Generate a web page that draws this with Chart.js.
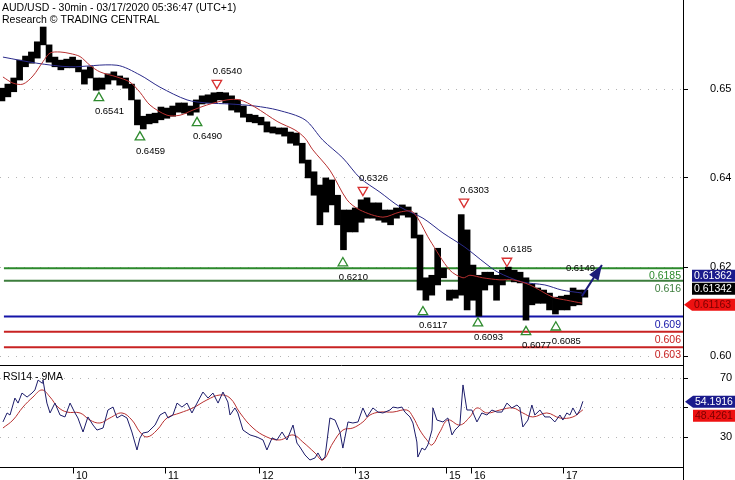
<!DOCTYPE html>
<html>
<head>
<meta charset="utf-8">
<title>AUD/USD 30min</title>
<script src="https://cdn.jsdelivr.net/npm/chart.js"></script>
<style>
  html, body { margin: 0; padding: 0; background: #fff; }
  #wrap { width: 735px; height: 480px; }
</style>
</head>
<body>
<div id="wrap"><canvas id="chart" width="735" height="480"></canvas></div>
<script>
const FONT = "'Liberation Sans', Arial, sans-serif";

// bar index = 30 minute bars since the first bar on screen
const candleBars = [1,4,7,10,13,16,19,22,25,28,31,34,37,40,43,46,49,52,55,58,
  61,64,67,70,73,76,79,82,85,88,91,94,97,100,103,106,109,112,115,118,
  121,124,127,130,133,136,139,142,145,148,151,154,157,160,163,166,169,172,175,178,
  181,184,187,190,193,196,199,202,205,208,211,214,217,220,223,226,229,232,235,238,
  241,244,247,250,253,256,259,262,265,268,271,274,277,280,283,286,289,292,295,298];
const candleHigh = [0.6538,0.6546,0.6558,0.6593,0.6601,0.6609,0.6629,0.6658,0.6623,0.6599,
  0.6593,0.6595,0.6599,0.6593,0.6574,0.6580,0.6558,0.6558,0.6566,0.6570,
  0.6562,0.6558,0.6546,0.6515,0.6483,0.6487,0.6489,0.6501,0.6499,0.6503,
  0.6509,0.6509,0.6503,0.6515,0.6523,0.6525,0.6529,0.6530,0.6529,0.6523,
  0.6515,0.6503,0.6487,0.6485,0.6481,0.6472,0.6462,0.6460,0.6460,0.6452,
  0.6450,0.6430,0.6397,0.6374,0.6348,0.6362,0.6358,0.6328,0.6299,0.6299,
  0.6303,0.6319,0.6323,0.6313,0.6313,0.6299,0.6299,0.6303,0.6309,0.6305,
  0.6293,0.6250,0.6166,0.6171,0.6224,0.6185,0.6142,0.6142,0.6290,0.6260,
  0.6191,0.6171,0.6177,0.6177,0.6171,0.6181,0.6187,0.6181,0.6177,0.6166,
  0.6154,0.6146,0.6142,0.6136,0.6128,0.6130,0.6132,0.6146,0.6142,0.6142];
const candleLow = [0.6513,0.6521,0.6531,0.6554,0.6580,0.6587,0.6597,0.6623,0.6589,0.6580,
  0.6574,0.6578,0.6578,0.6570,0.6546,0.6558,0.6534,0.6536,0.6546,0.6554,
  0.6544,0.6538,0.6515,0.6466,0.6458,0.6468,0.6470,0.6476,0.6479,0.6483,
  0.6491,0.6489,0.6485,0.6491,0.6507,0.6509,0.6509,0.6515,0.6509,0.6495,
  0.6491,0.6481,0.6472,0.6470,0.6466,0.6452,0.6450,0.6448,0.6444,0.6430,
  0.6426,0.6391,0.6362,0.6328,0.6270,0.6295,0.6309,0.6270,0.6221,0.6256,
  0.6256,0.6275,0.6283,0.6283,0.6279,0.6275,0.6270,0.6283,0.6289,0.6285,
  0.6244,0.6142,0.6122,0.6132,0.6152,0.6166,0.6122,0.6126,0.6132,0.6103,
  0.6122,0.6091,0.6142,0.6152,0.6122,0.6152,0.6162,0.6158,0.6156,0.6083,
  0.6113,0.6116,0.6116,0.6103,0.6095,0.6103,0.6103,0.6111,0.6113,0.6128];

// moving averages on price
const maFastBars = [1.5,6.6,11.7,16.8,21.9,25.5,30.6,35.7,40.8,45.8,50.9,59.6,66.2,71.3,76.4,85.1,91.7,98.3,
  105.4,115.6,122.3,129.9,141.6,150.3,155.4,159.4,168.1,176.8,183.4,195.1,203.8,210.4,219.0,229.2,
  235.9,239.4,246.0,254.7,261.3,270.0,281.7,288.8,296.5];
const maFastValues = [0.6560,0.6548,0.6546,0.6562,0.6590,0.6607,0.6609,0.6606,0.6600,0.6583,0.6570,0.6560,
  0.6550,0.6530,0.6505,0.6485,0.6485,0.6495,0.6505,0.6515,0.6515,0.6501,0.6472,0.6456,0.6440,0.6417,
  0.6377,0.6319,0.6299,0.6285,0.6295,0.6295,0.6240,0.6181,0.6166,0.6171,0.6166,0.6162,0.6162,0.6152,
  0.6128,0.6122,0.61163];
const maSlowBars = [1.5,18.8,35.7,59.6,71.3,81.5,95.3,105.4,117.2,129.9,141.6,155.4,164.5,174.7,183.4,
  193.6,203.8,215.5,225.7,236.9,247.1,253.7,265.9,277.6,286.3,296.5];
const maSlowValues = [0.6599,0.6587,0.6580,0.6583,0.6564,0.6540,0.6515,0.6509,0.6507,0.6503,0.6495,0.6476,
  0.6436,0.6401,0.6362,0.6334,0.6305,0.6283,0.6254,0.6226,0.6195,0.6177,0.6158,0.6152,0.6142,0.61362];
const lastClose = 0.61342;

// RSI 14 and its 9 period average
const rsiBars = [1.5,3.6,5.1,7.6,9.2,11.2,13.8,16.3,17.8,19.4,
  21.4,21.9,23.9,25.5,28.0,30.6,33.1,35.7,38.2,39.7,
  42.3,44.8,47.4,49.4,52.5,55.0,57.6,59.6,62.1,64.7,
  67.2,69.8,71.3,72.8,75.4,79.0,81.5,84.1,85.6,88.1,
  90.2,92.7,95.3,97.8,100.4,103.4,106.0,108.5,111.1,113.6,
  116.1,117.2,119.7,121.2,123.8,127.4,130.9,134.0,136.0,138.6,
  141.1,143.7,146.2,149.3,151.3,152.8,155.4,157.9,160.5,162.0,
  164.0,165.6,168.1,170.7,173.2,174.7,177.3,179.8,182.4,184.9,
  187.0,190.0,192.6,195.1,198.7,200.2,202.7,204.8,206.3,208.9,
  210.4,212.4,212.9,215.0,216.5,218.0,220.1,220.6,222.6,225.7,
  228.2,230.3,231.8,234.3,235.9,237.9,240.4,243.0,245.5,248.1,
  250.6,253.2,255.7,258.3,260.8,263.4,264.9,266.4,269.0,271.0,
  272.5,275.1,277.6,280.2,282.7,285.3,286.8,288.8,290.4,291.9,
  293.9,295.5,297.0];
const rsiValues = [40.2,46.3,44.9,56.4,53.0,59.8,57.1,59.8,61.9,68.6,
  66.6,68.6,53.0,46.3,53.0,44.9,43.6,53.0,46.3,42.9,
  33.4,43.6,38.1,34.7,36.1,48.3,50.3,42.9,44.9,42.9,
  33.4,21.2,29.3,32.7,33.4,38.1,44.9,46.9,42.9,44.9,
  53.0,50.3,53.0,46.3,53.0,60.5,56.4,59.8,53.0,60.5,
  53.7,44.9,49.7,46.3,34.7,31.4,30.0,28.0,21.2,29.3,
  28.0,33.4,28.0,38.1,25.9,23.2,17.8,14.4,15.8,19.2,
  14.4,16.4,42.9,41.5,33.4,22.5,40.2,39.5,40.2,49.7,
  43.6,49.7,46.9,46.3,48.3,50.3,49.7,50.3,46.9,43.6,
  39.5,26.6,16.4,22.5,21.2,24.6,34.7,49.7,41.5,40.2,
  42.9,31.4,34.7,38.1,65.3,48.3,48.3,40.2,46.3,44.9,
  48.3,46.9,46.9,53.0,49.7,51.7,49.7,36.8,41.5,51.7,
  44.9,48.3,43.6,43.6,40.2,44.9,41.5,46.3,44.9,49.7,
  44.9,48.3,54.1916];
const rsiMaBars = [1.5,6.6,11.7,16.8,21.4,25.5,29.5,34.1,40.8,45.8,50.9,56.0,62.1,67.2,71.3,74.9,80.0,85.1,
  91.7,98.3,105.4,112.1,117.2,122.3,128.9,136.0,142.6,149.3,154.3,160.5,164.5,169.6,174.7,179.8,184.9,
  188.5,193.6,200.2,207.3,210.4,213.9,217.5,220.1,224.1,228.2,234.3,239.4,243.0,248.1,254.7,261.3,
  266.4,271.5,278.6,285.3,291.9,297.0];
const rsiMaValues = [36.1,41.5,50.3,57.1,61.9,57.1,50.3,46.9,46.3,41.5,39.5,42.9,46.3,41.5,33.4,30.0,34.7,42.9,
  46.3,49.7,55.1,58.5,56.4,46.3,36.1,30.0,28.0,31.4,26.6,19.2,14.4,25.9,34.7,36.1,40.2,
  44.9,46.9,46.9,48.3,43.6,34.7,28.0,24.6,33.4,41.5,38.1,43.6,49.7,46.3,48.3,49.7,
  46.3,43.6,46.3,42.9,43.6,48.4261];

// support / resistance levels
const levelValues = [0.6185, 0.616, 0.609, 0.606, 0.603];
const levelLabels = ['0.6185', '0.616', '0.609', '0.606', '0.603'];
const levelColors = ['#2c8a2c', '#3c7d3c', '#1414a8', '#c82222', '#c82222'];
const levelStartBar = 2;

// pivot signals
const supportBars = [50.4, 71.3, 100.4, 174.7, 215.5, 243.5, 268.0, 283.2];
const supportMarks = [0.6519, 0.6442, 0.6470, 0.6195, 0.6099, 0.6077, 0.6060, 0.6069];
const supportLabels = ['0.6541', '0.6459', '0.6490', '0.6210', '0.6117', '0.6093', '0.6077', '0.6085'];
const resistBars = [110.5, 184.9, 236.4, 258.3];
const resistMarks = [0.6548, 0.6338, 0.6315, 0.6199];
const resistLabels = ['0.6540', '0.6326', '0.6303', '0.6185'];

// forecast arrow
const arrowBars = [296.5, 306.7];
const arrowPrices = [0.6130, 0.6191];
const arrowLabel = '0.6149';

// axes
const dayBars = [37, 84, 132, 181, 227, 240, 287];
const dayLabels = ['10', '11', '12', '13', '15', '16', '17'];
const priceTicks = [0.6536, 0.6362, 0.6187, 0.6012];
const priceTickLabels = ['0.65', '0.64', '0.62', '0.60'];
const rsiTicks = [70, 50, 30];
const rsiTickLabels = ['70', '', '30'];

const NAVY = '#1b1b78';
const MA_RED = '#b83030';
const GREEN = '#2e8b2e';

const zip = (xs, ys) => xs.map((x, i) => ({ x, y: ys[i] }));
const last = (a) => a[a.length - 1];

function tag(ctx, left, tipX, cy, text, bg, fg) {
  const h = 12;
  ctx.fillStyle = bg;
  ctx.beginPath();
  if (tipX != null) {
    ctx.moveTo(tipX, cy);
    ctx.lineTo(left, cy - h / 2);
  } else {
    ctx.moveTo(left, cy - h / 2);
  }
  ctx.lineTo(735, cy - h / 2);
  ctx.lineTo(735, cy + h / 2);
  ctx.lineTo(left, cy + h / 2);
  ctx.closePath();
  ctx.fill();
  ctx.fillStyle = fg;
  ctx.textAlign = 'left';
  ctx.textBaseline = 'middle';
  ctx.font = '10.5px ' + FONT;
  ctx.fillText(text, left + 2, cy + 0.5);
}

const overlay = {
  id: 'overlay',
  afterDatasetsDraw(chart) {
    const { ctx, scales: { x, y } } = chart;
    ctx.save();
    ctx.font = '9.5px ' + FONT;
    ctx.fillStyle = '#000';
    ctx.textAlign = 'left';
    ctx.textBaseline = 'alphabetic';
    supportBars.forEach((b, i) => {
      ctx.fillText(supportLabels[i], x.getPixelForValue(b) - 4, y.getPixelForValue(supportMarks[i]) + 16.5);
    });
    resistBars.forEach((b, i) => {
      ctx.fillText(resistLabels[i], x.getPixelForValue(b) - 4, y.getPixelForValue(resistMarks[i]) - 9);
    });

    // arrow head
    const x0 = x.getPixelForValue(arrowBars[0]), y0 = y.getPixelForValue(arrowPrices[0]);
    const x1 = x.getPixelForValue(last(arrowBars)), y1 = y.getPixelForValue(last(arrowPrices));
    const ang = Math.atan2(y1 - y0, x1 - x0);
    const len = 15, half = 5.5;
    ctx.fillStyle = NAVY;
    ctx.beginPath();
    ctx.moveTo(x1, y1);
    ctx.lineTo(x1 - len * Math.cos(ang) - half * Math.sin(ang), y1 - len * Math.sin(ang) + half * Math.cos(ang));
    ctx.lineTo(x1 - len * Math.cos(ang) + half * Math.sin(ang), y1 - len * Math.sin(ang) - half * Math.cos(ang));
    ctx.closePath();
    ctx.fill();
    ctx.fillStyle = '#000';
    ctx.textAlign = 'right';
    ctx.fillText(arrowLabel, x1 - 7, y1 + 5.5);
    ctx.restore();
  },
  afterDraw(chart) {
    const { ctx, chartArea: a, scales: { x, y, rsi } } = chart;
    ctx.save();

    // level labels
    ctx.font = '10.5px ' + FONT;
    ctx.textAlign = 'right';
    ctx.textBaseline = 'alphabetic';
    levelValues.forEach((v, i) => {
      ctx.fillStyle = levelColors[i];
      ctx.fillText(levelLabels[i], a.right - 2, y.getPixelForValue(v) + 11);
    });

    // frame
    ctx.strokeStyle = '#000';
    ctx.lineWidth = 1;
    ctx.beginPath();
    const sepY = Math.round(y.bottom) - 0.5;
    ctx.moveTo(0, sepY); ctx.lineTo(a.right, sepY);
    const botY = Math.round(a.bottom) + 0.5;
    ctx.moveTo(0, botY); ctx.lineTo(a.right, botY);
    const axX = Math.round(a.right) + 0.5;
    ctx.moveTo(axX, 0); ctx.lineTo(axX, chart.height);
    // day ticks
    dayBars.forEach((b) => {
      const px = Math.round(x.getPixelForValue(b)) + 0.5;
      ctx.moveTo(px, botY); ctx.lineTo(px, botY + 6);
    });
    ctx.stroke();

    ctx.fillStyle = '#000';
    ctx.textAlign = 'left';
    ctx.font = '10.5px ' + FONT;
    dayBars.forEach((b, i) => {
      ctx.fillText(dayLabels[i], Math.round(x.getPixelForValue(b)) + 3, botY + 11);
    });

    // titles
    ctx.fillText('AUD/USD - 30min - 03/17/2020 05:36:47 (UTC+1)', 2, 10.5);
    ctx.fillText('Research \u00A9 TRADING CENTRAL', 2, 23);
    ctx.fillText('RSI14 - 9MA', 3, y.bottom + 14);

    // last value tags
    const fastY = y.getPixelForValue(last(maFastValues)) + 1.5;
    tag(ctx, a.right + 9, a.right + 1, fastY, last(maFastValues).toFixed(5), '#ee1111', '#7a0000');
    tag(ctx, a.right + 9, null, fastY - 16, lastClose.toFixed(5), '#000', '#fff');
    tag(ctx, a.right + 9, null, fastY - 29, last(maSlowValues).toFixed(5), '#1a1a8c', '#fff');

    const rsiY = rsi.getPixelForValue(last(rsiValues)) + 0.5;
    tag(ctx, a.right + 10, a.right + 2, rsiY, last(rsiValues).toFixed(4), '#1a1a8c', '#fff');
    tag(ctx, a.right + 10, null, rsiY + 14, last(rsiMaValues).toFixed(4), '#ee1111', '#7a0000');
    ctx.restore();
  }
};

const lineBase = { type: 'line', pointRadius: 0, pointHoverRadius: 0, fill: false };

const datasets = [
  {
    type: 'scatter', data: zip(supportBars, supportMarks), yAxisID: 'y', order: 0,
    pointStyle: 'triangle', pointRadius: 5.5, pointRotation: 0,
    pointBorderColor: GREEN, pointBackgroundColor: 'rgba(255,255,255,0)', pointBorderWidth: 1.3
  },
  {
    type: 'scatter', data: zip(resistBars, resistMarks), yAxisID: 'y', order: 0,
    pointStyle: 'triangle', pointRadius: 5.5, pointRotation: 180,
    pointBorderColor: '#d83030', pointBackgroundColor: 'rgba(255,255,255,0)', pointBorderWidth: 1.3
  },
  { ...lineBase, data: zip(arrowBars, arrowPrices), yAxisID: 'y', borderColor: NAVY, borderWidth: 2, order: 1 },
  { ...lineBase, data: zip(maFastBars, maFastValues), yAxisID: 'y', borderColor: MA_RED, borderWidth: 1, tension: 0.3, order: 1 },
  { ...lineBase, data: zip(maSlowBars, maSlowValues), yAxisID: 'y', borderColor: '#2a2a8a', borderWidth: 1, tension: 0.3, order: 1 },
  { ...lineBase, data: zip(rsiBars, rsiValues), yAxisID: 'rsi', borderColor: '#1c1c6a', borderWidth: 1, tension: 0, order: 1 },
  { ...lineBase, data: zip(rsiMaBars, rsiMaValues), yAxisID: 'rsi', borderColor: MA_RED, borderWidth: 1, tension: 0.4, order: 2 },
  {
    type: 'bar', yAxisID: 'y', order: 3,
    data: candleBars.map((b, i) => ({ x: b, y: [candleLow[i], candleHigh[i]] })),
    backgroundColor: '#000', borderWidth: 0, barThickness: 6
  },
  ...levelValues.map((v, i) => ({
    ...lineBase, yAxisID: 'y', order: 4,
    data: [{ x: levelStartBar, y: v }, { x: 348, y: v }],
    borderColor: levelColors[i], borderWidth: 2
  }))
];

function fixWidth(s) {
  s.width = 52;
  s.paddingTop = 0;
  s.paddingBottom = 0;
}

Chart.defaults.font.family = FONT;

new Chart(document.getElementById('chart'), {
  type: 'bar',
  data: { datasets },
  plugins: [overlay],
  options: {
    responsive: false,
    animation: false,
    events: [],
    layout: { autoPadding: false, padding: { left: 0, top: 0, right: 0, bottom: 13 } },
    plugins: { legend: { display: false }, tooltip: { enabled: false } },
    scales: {
      x: { type: 'linear', min: 0, max: 348, offset: false, display: false },
      y: {
        type: 'linear', position: 'right', stack: 'panes', stackWeight: 366,
        min: 0.5993, max: 0.6711,
        afterBuildTicks: (s) => { s.ticks = priceTicks.map((v) => ({ value: v })); },
        afterFit: fixWidth,
        ticks: {
          callback: (v, i) => priceTickLabels[i],
          font: { size: 11 }, color: '#000', padding: 22, autoSkip: false
        },
        grid: { color: '#b4b4b4', tickColor: '#000', tickLength: 5, tickWidth: 1 },
        border: { display: false, dash: [1, 7] }
      },
      rsi: {
        type: 'linear', position: 'right', stack: 'panes', stackWeight: 101,
        min: 9.66, max: 78.14,
        afterBuildTicks: (s) => { s.ticks = rsiTicks.map((v) => ({ value: v })); },
        afterFit: fixWidth,
        ticks: {
          callback: (v, i) => rsiTickLabels[i],
          font: { size: 11 }, color: '#000', padding: 32, autoSkip: false
        },
        grid: { color: '#b4b4b4', tickColor: '#000', tickLength: 5, tickWidth: 1 },
        border: { display: false, dash: [1, 7] }
      }
    }
  }
});
</script>
</body>
</html>
